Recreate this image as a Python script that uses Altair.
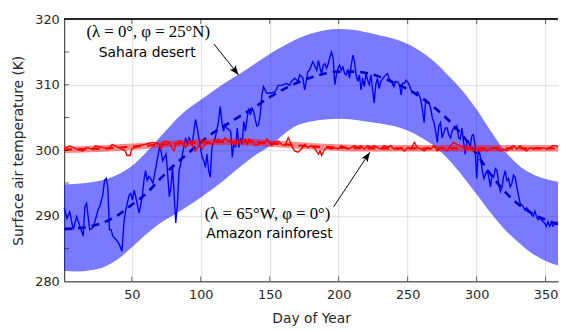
import altair as alt
import pandas as pd

# ---------------- data ----------------
band_days = [1, 10, 20, 30, 40, 50, 60, 70, 80, 90, 100, 110, 120, 130, 140, 150, 160, 170, 180,
             190, 200, 210, 220, 230, 240, 250, 260, 270, 280, 290, 300, 310, 320, 330, 340, 350, 359]
sahara_upper = [294.8, 294.9, 295.1, 295.5, 296.3, 297.6, 299.6, 301.9, 304.2, 306.2, 307.7, 309.2,
                310.6, 311.9, 313.3, 314.7, 315.9, 317.0, 317.8, 318.3, 318.5, 318.4, 318.0, 317.5,
                317.0, 316.2, 315.0, 313.4, 311.3, 309.0, 306.2, 303.0, 300.0, 297.8, 296.4, 295.6, 295.2]
sahara_lower = [281.6, 281.5, 281.7, 282.2, 283.4, 285.2, 287.1, 288.8, 290.1, 291.4, 292.8, 294.3,
                296.0, 297.7, 299.3, 300.6, 302.4, 303.8, 304.4, 304.7, 304.8, 304.7, 304.4, 304.1,
                303.7, 303.0, 301.9, 300.5, 298.5, 296.0, 293.3, 290.5, 288.0, 286.0, 284.3, 283.1, 282.4]
sahara_mean = [288.0, 288.1, 288.4, 289.0, 290.1, 291.7, 293.3, 295.5, 297.6, 299.4, 301.2, 302.8,
               304.1, 305.4, 306.7, 308.1, 309.3, 310.3, 311.1, 311.7, 312.0, 312.0, 311.8, 311.2,
               310.3, 309.3, 308.0, 306.4, 304.5, 302.2, 299.4, 296.4, 293.8, 291.8, 290.4, 289.4, 288.7]

red_days = [1, 20, 40, 60, 80, 100, 120, 140, 160, 180, 200, 220, 240, 260, 280, 300, 320, 340, 359]
amazon_mean = [300.1, 300.2, 300.4, 300.7, 301.0, 301.2, 301.3, 301.2, 300.9, 300.6, 300.4, 300.3,
               300.3, 300.3, 300.3, 300.3, 300.3, 300.3, 300.3]
amazon_upper = [300.6, 300.7, 300.9, 301.2, 301.5, 301.7, 301.8, 301.7, 301.4, 301.1, 300.9, 300.8,
                300.8, 300.8, 300.8, 300.8, 300.8, 300.8, 300.8]
amazon_lower = [299.6, 299.7, 299.9, 300.2, 300.5, 300.7, 300.8, 300.7, 300.4, 300.1, 299.9, 299.8,
                299.8, 299.8, 299.8, 299.8, 299.8, 299.8, 299.8]

sahara_daily_day = [1, 3, 5, 7.6, 10, 12.4, 14.8, 16, 17.2, 19.5, 21.9, 24.3, 25.5, 26.7, 29, 30.3, 31.5,
    32.6, 33.8, 35, 36.2, 38.6, 41, 42.9, 44.5, 45.7, 48.1, 49.3, 50.5, 51.7, 52.9, 55.3, 57.6, 58.8,
    60, 61.2, 62.4, 63.5, 65.3, 67.6, 70, 71.2, 72.4, 74.8, 76, 77.2, 78.4, 79.5, 80.7, 81.9, 83.1,
    84.3, 85.5, 86.7, 89, 90.3, 91.5, 93.8, 96.2, 97.4, 98.6, 101, 102.2, 103.4, 104.5, 105.7, 106.9,
    108.1, 110.5, 112.9, 114.1, 115.3, 116.5, 117.6, 118.8, 121.7, 122.9, 124.1, 125.3, 126.5, 127.6,
    128.8, 130, 131.2, 132.4, 133.6, 134.8, 136, 137.2, 138.4, 139.5, 140.7, 141.9, 143.1, 144.3,
    145.5, 147.9, 150.3, 153.8, 156.2, 158.6, 162.2, 164.5, 165.7, 168.1, 170.5, 171.7, 174.1, 175.3,
    176.5, 177.6, 178.8, 181.2, 182.4, 184.1, 185.3, 186.5, 187.6, 188.8, 190, 191.2, 192.4, 193.6,
    194.8, 196, 197.2, 198.4, 199.5, 200.7, 201.9, 203.1, 204.3, 205.5, 206.7, 207.9, 209.1, 210.3,
    211.5, 212.6, 213.8, 215, 216.2, 217.4, 218.6, 219.8, 221, 222.2, 223.4, 224.5, 225.7, 226.9,
    228.1, 229.3, 230.5, 232.9, 234.1, 235.3, 236.5, 237.6, 240, 241.2, 242.9, 244.1, 245.3, 246.2,
    247.6, 248.8, 250, 251.2, 252.4, 253.6, 256, 257.2, 258.4, 259.5, 260.7, 261.9, 263.1, 264.3,
    265.5, 266.7, 267.9, 269.1, 270.3, 271.5, 272.6, 273.8, 275, 276.2, 277.4, 278.6, 279.8, 281,
    282.2, 283.4, 284.5, 285.7, 286.9, 288.1, 289.3, 290.5, 291.7, 292.9, 294.1, 295.3, 296.5, 297.6,
    298.8, 300, 301.2, 302.4, 304.1, 305.3, 306.5, 307.6, 308.8, 310, 311.2, 312.4, 313.6, 314.8,
    316, 317.2, 318.4, 319.5, 320.7, 321.9, 323.1, 324.3, 325.5, 326.7, 327.9, 329.1, 330.3, 331.5,
    332.6, 333.8, 335, 336.2, 337.4, 338.6, 339.8, 341, 342.2, 343.4, 344.5, 345.7, 346.9, 348.1,
    349.3, 350.5, 351.7, 352.9, 354.1, 355.3, 356.5, 357.6, 358.8]
sahara_daily = [291.2, 289.6, 290.6, 287.9, 289.9, 288.4, 286.9, 291.4, 291.9, 287.9, 288.2, 289.9,
    290.9, 291.4, 293.2, 295.4, 295.7, 294.4, 287.9, 287.9, 286.9, 286.4, 285.6, 284.6, 289.4, 290.9,
    293.2, 293.4, 292.4, 293.9, 292.9, 290.4, 292.9, 295.4, 296.9, 295.4, 296.0, 295.7, 295.0, 297.5,
    300.4, 299.9, 298.4, 299.4, 296.4, 292.9, 294.4, 297.4, 293.4, 288.9, 291.9, 296.9, 297.9, 299.4,
    301.9, 300.9, 301.9, 300.9, 304.7, 303.4, 301.9, 298.9, 298.4, 297.4, 299.4, 296.9, 295.9, 300.4,
    301.9, 304.4, 306.7, 304.4, 302.9, 303.9, 303.4, 302.9, 298.9, 301.4, 300.4, 303.4, 300.4, 301.9,
    300.9, 304.4, 302.9, 304.9, 306.4, 305.4, 306.4, 305.9, 304.7, 303.7, 303.9, 305.4, 308.4, 309.7,
    308.7, 308.7, 308.9, 309.9, 309.9, 310.2, 309.9, 310.5, 311.0, 310.5, 311.5, 311.0, 309.2, 310.5,
    312.0, 312.2, 313.5, 313.0, 312.2, 313.7, 312.5, 311.7, 313.0, 313.2, 312.5, 313.2, 314.2, 315.0,
    314.0, 310.0, 311.5, 312.5, 313.0, 312.2, 312.7, 311.7, 311.5, 312.2, 311.0, 313.0, 314.5, 313.5,
    311.5, 310.5, 311.5, 309.2, 311.0, 309.7, 311.7, 310.7, 310.0, 311.5, 309.4, 307.2, 310.0, 311.0,
    309.4, 310.5, 311.2, 311.5, 311.7, 311.0, 310.7, 309.7, 310.5, 310.4, 310.0, 308.4, 310.2, 310.2,
    310.7, 310.4, 310.0, 309.2, 308.9, 308.7, 308.9, 308.4, 307.7, 306.2, 304.2, 307.7, 307.4, 307.2,
    306.4, 304.9, 304.2, 302.9, 301.2, 303.7, 304.2, 301.9, 302.7, 303.4, 303.4, 302.4, 301.9, 302.9,
    303.4, 303.2, 303.7, 301.9, 301.7, 303.4, 301.4, 299.4, 301.2, 301.4, 300.4, 302.2, 302.4, 300.9,
    295.7, 299.9, 299.4, 296.9, 295.7, 296.4, 296.9, 295.9, 294.4, 296.2, 295.9, 297.2, 296.9, 294.9,
    293.7, 294.4, 295.9, 296.9, 295.4, 295.7, 294.4, 294.9, 296.2, 295.9, 294.4, 293.2, 291.9, 291.7,
    291.4, 290.9, 291.2, 290.9, 290.7, 290.2, 289.9, 290.7, 289.9, 289.4, 289.7, 289.4, 289.1, 288.9,
    288.4, 289.1, 288.4, 288.9, 288.4, 288.7, 288.9, 289.1]

amazon_daily_day = [1, 4.8, 9.5, 14.3, 16.7, 21.5, 23.8, 28.6, 33.4, 35.7, 40.5, 45.3, 46.5, 48.8, 50,
    54.8, 59.5, 65.3, 70, 71.2, 72.4, 74.8, 77.2, 79.5, 80.7, 81.9, 84.3, 86.7, 89, 90.3, 92.6, 95,
    96.2, 98.6, 101, 103.4, 105.7, 108.1, 110.5, 112.9, 115.3, 117.6, 120, 122.9, 125.3, 127.6, 130,
    132.4, 133.6, 134.8, 137.2, 139.5, 141.9, 144.3, 146.7, 147.9, 149.1, 151.5, 153.8, 156.2, 158.6,
    161, 163.4, 164.5, 165.7, 168.1, 170.5, 172.9, 175.3, 177.6, 180, 182.9, 185.3, 186.5, 187.6, 190,
    192.4, 194.8, 197.2, 199.5, 201.9, 204.3, 206.7, 209.1, 211.5, 213.8, 216.2, 218.6, 221, 223.4,
    225.7, 228.1, 230.5, 232.9, 235.3, 237.6, 240, 242.9, 245.3, 247.6, 250, 252.4, 254.8, 257.2,
    259.5, 261.9, 264.3, 266.7, 269.1, 271.5, 273.8, 276.2, 278.6, 281, 283.4, 285.7, 288.1, 290.5,
    292.9, 295.3, 297.6, 300, 302.9, 305.3, 307.6, 310, 312.4, 314.8, 317.2, 319.5, 321.9, 324.3,
    326.7, 329.1, 331.5, 333.8, 336.2, 338.6, 341, 343.4, 345.7, 348.1, 350.5, 352.9, 355.3, 357.6, 359]
amazon_daily = [300.2, 300.7, 300.2, 299.9, 300.4, 300.2, 300.7, 300.4, 300.2, 300.9, 300.4, 299.9,
    299.2, 299.2, 300.2, 300.7, 300.9, 301.2, 300.9, 300.2, 301.2, 301.4, 301.2, 300.2, 299.9, 300.9,
    301.4, 301.2, 300.4, 300.9, 301.2, 300.2, 299.9, 300.7, 300.2, 300.9, 301.2, 300.9, 301.4, 301.7,
    301.2, 301.9, 301.4, 301.2, 300.9, 301.2, 301.4, 301.7, 300.9, 301.7, 301.4, 300.7, 300.9, 301.2,
    301.2, 301.7, 301.4, 300.7, 301.2, 301.4, 300.9, 300.7, 301.9, 301.4, 300.7, 299.9, 299.7, 300.2,
    300.9, 300.4, 300.7, 300.2, 299.4, 299.9, 299.2, 300.2, 300.4, 300.2, 300.4, 300.2, 300.7, 300.4,
    300.2, 300.4, 300.7, 300.4, 300.7, 300.2, 300.7, 300.4, 300.7, 300.4, 300.2, 300.7, 300.4, 300.7,
    300.2, 300.2, 300.4, 299.9, 300.4, 300.2, 301.2, 300.4, 300.2, 299.9, 300.4, 300.2, 300.7, 299.9,
    300.2, 300.4, 299.9, 300.7, 301.2, 300.9, 300.7, 300.4, 300.2, 300.4, 299.9, 300.2, 299.9, 300.2,
    299.9, 300.2, 300.4, 300.2, 299.9, 300.2, 299.9, 300.4, 300.7, 300.2, 300.7, 300.2, 299.9, 300.4,
    300.2, 300.4, 300.2, 300.4, 300.2, 300.4, 300.7, 300.7, 300.4]

x_ticks = [50, 100, 150, 200, 250, 300, 350]
y_ticks = [280, 285, 290, 295, 300, 305, 310, 315, 320]

# annotations (data coordinates)
ann_text = pd.DataFrame({
    "day": [61.9, 61.2, 148.4, 149.8],
    "T": [318.1, 314.9, 290.2, 287.2],
    "label": ["(\u03bb = 0\u00b0, \u03c6 = 25\u00b0N)", "Sahara desert",
              "(\u03bb = 65\u00b0W, \u03c6 = 0\u00b0)", "Amazon rainforest"],
    "kind": ["math", "name", "math", "name"],
})
arrows = pd.DataFrame({
    "day": [109.6, 196.4], "T": [316.2, 291.4],
    "day2": [127.4, 222.6], "T2": [311.5, 299.7],
    "angle": [141.7, 33.7],
})

W, H = 501, 266
X0, X1 = 1, 359

band = pd.DataFrame({"day": band_days, "up": sahara_upper, "lo": sahara_lower, "mean": sahara_mean})
rband = pd.DataFrame({"day": red_days, "up": amazon_upper, "lo": amazon_lower, "mean": amazon_mean})
sd = pd.DataFrame({"day": sahara_daily_day, "T": sahara_daily})
ad = pd.DataFrame({"day": amazon_daily_day, "T": amazon_daily})

xs = alt.Scale(domain=[X0, X1], nice=False, zero=False)
ys = alt.Scale(domain=[280, 320], nice=False, zero=False)

xax = alt.Axis(values=x_ticks, grid=True, title="Day of Year", labelFlush=False, tickSize=0,
               labelPadding=7, titlePadding=11)
yax = alt.Axis(values=y_ticks, grid=True, title="Surface air temperature (K)", tickSize=0,
               labelPadding=5, titlePadding=9)

X = alt.X("day:Q", scale=xs, axis=xax)
Y = alt.Y("up:Q", scale=ys, axis=yax)

blue_band = alt.Chart(band).mark_area(color="#0000ff", opacity=0.52, interpolate="monotone").encode(
    x=X, y=Y, y2="lo:Q")
blue_daily = alt.Chart(sd).mark_line(color="#0000ff", strokeWidth=1.4).encode(
    x=alt.X("day:Q", scale=xs), y=alt.Y("T:Q", scale=ys))
blue_mean = alt.Chart(band).mark_line(color="#0000c8", strokeWidth=2.6, strokeDash=[8, 6],
                                      interpolate="monotone").encode(
    x=alt.X("day:Q", scale=xs), y=alt.Y("mean:Q", scale=ys))

red_band = alt.Chart(rband).mark_area(color="#ff0000", opacity=0.45, interpolate="monotone").encode(
    x=alt.X("day:Q", scale=xs), y=alt.Y("up:Q", scale=ys), y2="lo:Q")
red_daily = alt.Chart(ad).mark_line(color="#ff0000", strokeWidth=1.4).encode(
    x=alt.X("day:Q", scale=xs), y=alt.Y("T:Q", scale=ys))
red_mean = alt.Chart(rband).mark_line(color="#ff0000", strokeWidth=2.2, strokeDash=[8, 6],
                                      interpolate="monotone").encode(
    x=alt.X("day:Q", scale=xs), y=alt.Y("mean:Q", scale=ys))

# frame: top border and inward ticks
top_border = alt.Chart(band).mark_rule(color="#262626", strokeWidth=1).encode(
    x=alt.value(0), x2=alt.value(W), y=alt.value(0))
yt = pd.DataFrame({"v": y_ticks[1:-1]})
xt = pd.DataFrame({"v": x_ticks})
left_ticks = alt.Chart(yt).mark_tick(orient="horizontal", color="#262626", size=5, thickness=1).encode(
    y=alt.Y("v:Q", scale=ys), x=alt.value(2.5))
bottom_ticks = alt.Chart(xt).mark_tick(orient="vertical", color="#262626", size=5, thickness=1).encode(
    x=alt.X("v:Q", scale=xs), y=alt.value(H - 2.5))
top_ticks = alt.Chart(xt).mark_tick(orient="vertical", color="#262626", size=5, thickness=1).encode(
    x=alt.X("v:Q", scale=xs), y=alt.value(2.5))

arrow_lines = alt.Chart(arrows).mark_rule(color="#000000", strokeWidth=1).encode(
    x=alt.X("day:Q", scale=xs), y=alt.Y("T:Q", scale=ys), x2="day2:Q", y2="T2:Q")
arrow_heads = alt.Chart(arrows).mark_point(
    shape="M0,0L0.38,1L0,0.78L-0.38,1Z", filled=True, color="#000000", opacity=1, size=380,
    strokeWidth=0).encode(
    x=alt.X("day2:Q", scale=xs), y=alt.Y("T2:Q", scale=ys), angle=alt.Angle("angle:Q", scale=None))

math_text = alt.Chart(ann_text).transform_filter(alt.datum.kind == "math").mark_text(
    font="Liberation Serif", fontSize=17, color="#000000").encode(
    x=alt.X("day:Q", scale=xs), y=alt.Y("T:Q", scale=ys), text="label:N")
name_text = alt.Chart(ann_text).transform_filter(alt.datum.kind == "name").mark_text(
    font="DejaVu Sans", fontSize=14, color="#000000").encode(
    x=alt.X("day:Q", scale=xs), y=alt.Y("T:Q", scale=ys), text="label:N")

chart = alt.layer(
    blue_band, blue_daily, blue_mean, red_band, red_daily, red_mean,
    top_border, left_ticks, bottom_ticks, top_ticks,
    arrow_lines, arrow_heads, math_text, name_text,
).properties(
    width=W, height=H,
    autosize=alt.AutoSizeParams(type="none"),
    padding={"left": 57, "top": 9, "right": 1, "bottom": 45},
).configure_view(stroke=None).configure_axis(
    domainColor="#262626", labelColor="#262626", titleColor="#262626",
    labelFont="DejaVu Sans", titleFont="DejaVu Sans", labelFontSize=13, titleFontSize=14,
    titleFontWeight="normal", gridColor="#dcdcdc", gridWidth=1, domainWidth=1,
)

chart.save("out.html", embed_options={"renderer": "svg", "actions": False})
